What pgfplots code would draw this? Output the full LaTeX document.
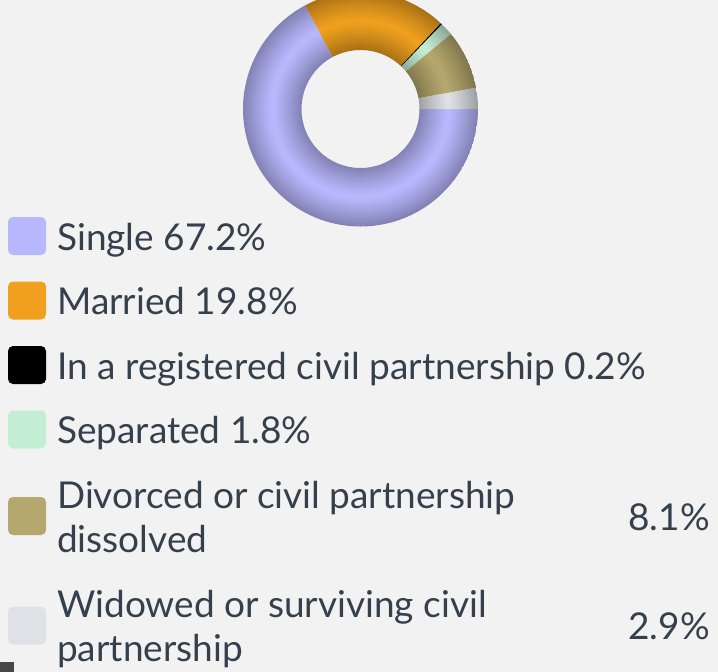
\documentclass[border=0pt]{standalone}
\usepackage{fontspec}
\setmainfont{Lato}
\usepackage{pgfplots}
\usepackage{pgfplotstable}
\pgfplotsset{compat=1.18}

\definecolor{bg}{HTML}{F2F2F2}
\definecolor{txt}{HTML}{36404C}
\definecolor{cSingle}{HTML}{B8B8FF}
\definecolor{cMarried}{HTML}{F0A01E}
\definecolor{cCivil}{HTML}{000000}
\definecolor{cSep}{HTML}{C4EED4}
\definecolor{cDiv}{HTML}{B5A86E}
\definecolor{cWid}{HTML}{E0E1E6}

% share of each status, in percent (drawn clockwise from 3 o'clock)
\pgfplotstableread{
status value
Single 67.2
Married 19.8
Civil 0.2
Separated 1.8
Divorced 8.1
Widowed 2.9
}\maritaldata

\tikzset{lg/.style={anchor=base west, text=txt, inner sep=0pt, font=\fontsize{37}{44}\selectfont},
  lgr/.style={lg, anchor=base east}}

\begin{document}
\begin{tikzpicture}[x=1pt,y=1pt]
\path[use as bounding box, fill=bg] (0,0) rectangle (718,-672);
\clip (0,0) rectangle (718,-672);

\begin{axis}[hide axis, x=1pt, y=1pt, xmin=-120, xmax=120, ymin=-120, ymax=120,
  at={(360.5,-109)}, anchor=center, clip=false]
\pgfplotsextra{
  \gdef\cum{0}
  \begin{scope}[shift={(axis cs:0,0)}]
  \foreach \i/\col in {0/cSingle,1/cMarried,2/cCivil,3/cSep,4/cDiv,5/cWid}{
    \pgfplotstablegetelem{\i}{value}\of\maritaldata
    \pgfmathsetmacro\aS{-3.6*\cum}
    \pgfmathsetmacro\aE{-3.6*(\cum+\pgfplotsretval)}
    \pgfmathsetmacro\newcum{\cum+\pgfplotsretval}
    \xdef\cum{\newcum}
    \begin{scope}
      \clip (\aS:59pt) -- (\aS:117.5pt) arc[start angle=\aS, end angle=\aE, radius=117.5pt]
        -- (\aE:59pt) arc[start angle=\aE, end angle=\aS, radius=59pt] -- cycle;
      \foreach \k in {0,...,29}{
        \pgfmathsetmacro\rr{59+(\k+0.5)*1.95}
        \pgfmathsetmacro\mixv{100-30*(abs(\rr-88.25)/29.25)^1.2}
        \draw[line width=2.4pt, draw=\col!\mixv!black] (0:0pt) circle[radius=\rr pt];
      }
    \end{scope}
  }
  \end{scope}
}
\end{axis}

% legend
\fill[cSingle, rounded corners=5pt] (8,-217) rectangle (46,-255);
\fill[cMarried, rounded corners=5pt] (8,-281.5) rectangle (46,-319.5);
\fill[cCivil, rounded corners=5pt] (8,-346) rectangle (46,-384);
\fill[cSep, rounded corners=5pt] (8,-410.5) rectangle (46,-448.5);
\fill[cDiv, rounded corners=5pt] (8,-497) rectangle (46,-535);
\fill[cWid, rounded corners=5pt] (8,-606.5) rectangle (46,-644.5);

\node[lg] at (57,-250) {Single 67.2\%};
\node[lg] at (57,-314.5) {Married 19.8\%};
\node[lg] at (57,-379) {In a registered civil partnership 0.2\%};
\node[lg] at (57,-443.5) {Separated 1.8\%};
\node[lg] at (57,-508) {Divorced or civil partnership};
\node[lg] at (57,-552) {dissolved};
\node[lgr] at (710,-530) {8.1\%};
\node[lg] at (57,-617) {Widowed or surviving civil};
\node[lg] at (57,-661) {partnership};
\node[lgr] at (710,-639) {2.9\%};

\fill[black!72] (0,-662) rectangle (14,-672);
\end{tikzpicture}
\end{document}
